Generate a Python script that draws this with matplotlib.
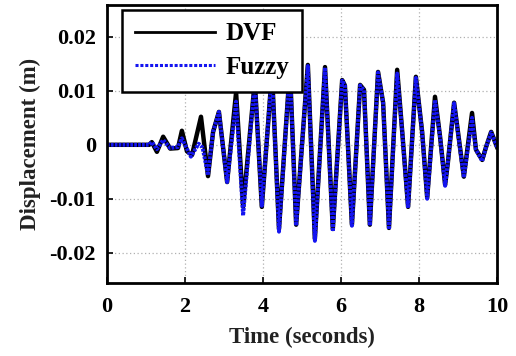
import matplotlib
matplotlib.use("Agg")
import matplotlib.pyplot as plt

# DVF response (extrema)
dvf_t = [0.0, 1.08, 1.15, 1.28, 1.44, 1.62, 1.82, 1.92, 2.05, 2.18, 2.41, 2.59, 2.72, 2.87,
         3.08, 3.31, 3.49, 3.79, 3.97, 4.23, 4.41, 4.69, 4.85, 5.15, 5.33, 5.59, 5.79,
         6.03, 6.10, 6.28, 6.49, 6.59, 6.74, 6.95, 7.08, 7.23, 7.44, 7.56, 7.72, 7.92,
         8.08, 8.21, 8.41, 8.54, 8.67, 8.74, 8.90, 9.15, 9.36, 9.46, 9.62, 9.72, 9.85, 10.0]
dvf_y = [0.0, 0.0, 0.0005, -0.0013, 0.0015, -0.0007, -0.0006, 0.0026, -0.0012, -0.0019,
         0.0052, -0.0058, 0.0024, 0.0061, -0.0069, 0.0097, -0.0115, 0.0118, -0.0115,
         0.0135, -0.0156, 0.0142, -0.0148, 0.0148, -0.0174, 0.0144, -0.0156, 0.0120,
         0.0110, -0.0148, 0.0111, 0.0102, -0.0148, 0.0135, 0.0078, -0.0154, 0.0139,
         0.0033, -0.0115, 0.0126, 0.0024, -0.0098, 0.0089, 0.0015, -0.0074, -0.0033,
         0.0078, -0.0059, 0.0059, -0.0009, -0.0028, -0.0004, 0.0024, -0.0004]

# Fuzzy response
fuzzy_t = [0.0, 1.08, 1.15, 1.28, 1.44, 1.62, 1.82, 1.92, 2.15, 2.35, 2.45, 2.59, 2.72, 2.87,
           3.08, 3.31, 3.49, 3.79, 3.97, 4.23, 4.41, 4.69, 4.85, 5.15, 5.33, 5.59, 5.79,
           6.03, 6.10, 6.28, 6.49, 6.59, 6.74, 6.95, 7.08, 7.23, 7.44, 7.56, 7.72, 7.92,
           8.08, 8.21, 8.41, 8.54, 8.67, 8.74, 8.90, 9.15, 9.36, 9.46, 9.62, 9.72, 9.85, 10.0]
fuzzy_y = [0.0, 0.0, 0.0005, -0.0008, 0.0009, -0.0006, -0.0004, 0.0012, -0.0022, 0.0002,
           -0.0005, -0.0056, 0.0024, 0.0061, -0.0069, 0.0080, -0.0131, 0.0118, -0.0113,
           0.0135, -0.0161, 0.0142, -0.0150, 0.0146, -0.0178, 0.0143, -0.0160, 0.0119,
           0.0110, -0.0150, 0.0110, 0.0101, -0.0150, 0.0134, 0.0078, -0.0157, 0.0132,
           0.0033, -0.0117, 0.0124, 0.0024, -0.0100, 0.0083, 0.0015, -0.0076, -0.0033,
           0.0077, -0.0061, 0.0050, -0.0009, -0.0030, -0.0004, 0.0023, -0.0004]

x_ticks = [0, 2, 4, 6, 8, 10]
y_ticks = [-0.02, -0.01, 0, 0.01, 0.02]
y_tick_labels = ["-0.02", "-0.01", "0", "0.01", "0.02"]

plt.rcParams['font.family'] = ['Liberation Serif', 'DejaVu Serif']
plt.rcParams['font.weight'] = 'bold'

fig = plt.figure(figsize=(5.16, 3.56), dpi=100)
ax = fig.add_axes([107/516, 1-283/356, (497-107)/516, (283-5)/356])

ax.plot(dvf_t, dvf_y, color='black', lw=3.2, solid_joinstyle='round', label='DVF')
ax.plot(fuzzy_t, fuzzy_y, color='#1414f0', lw=2.8, linestyle=(0, (0.7, 0.3)),
        dash_joinstyle='round', label='Fuzzy')

ax.set_xlim(0, 10)
ax.set_ylim(-0.0256, 0.0259)
ax.set_xticks(x_ticks)
ax.set_yticks(y_ticks)
ax.set_yticklabels(y_tick_labels)
ax.tick_params(direction='in', length=4, width=1.2, labelsize=16, pad=10)
ax.tick_params(axis='y', pad=8)
for lab in ax.get_xticklabels() + ax.get_yticklabels():
    lab.set_fontweight('bold')
ax.grid(True, color='#b0b0b0', linestyle=(0, (1, 2)), linewidth=0.9)
for s in ax.spines.values():
    s.set_linewidth(2.0)

ax.set_xlabel('Time (seconds)', fontsize=16.5, fontweight='bold', color='#222222', labelpad=7)
ax.set_ylabel('Displacement (m)', fontsize=16.5, fontweight='bold', color='#222222', labelpad=6)

leg = fig.legend(loc='upper left', bbox_to_anchor=(122/516, 1-10/356), borderaxespad=0,
                 fontsize=18, handlelength=3.2, handletextpad=0.45, labelspacing=0.42,
                 fancybox=False, framealpha=1, edgecolor='black', borderpad=0.5)
leg.get_frame().set_linewidth(1.8)
for t in leg.get_texts():
    t.set_fontweight('bold')
leg.get_lines()[0].set_linewidth(2.0)
leg.get_lines()[1].set_linewidth(2.2)
leg.get_lines()[1].set_linestyle((0, (1, 0.6)))

fig.savefig('out.png', dpi=100)
